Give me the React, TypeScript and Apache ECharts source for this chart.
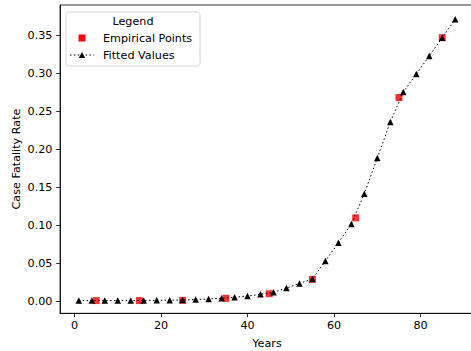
import React, { useEffect, useRef } from "react";
import * as echarts from "echarts";

const empiricalYears = [5, 15, 25, 35, 45, 55, 65, 75, 85];
const empiricalRates = [0.0015, 0.0015, 0.0018, 0.0045, 0.0105, 0.0294, 0.11, 0.268, 0.3465];

const fittedYears = [1, 4, 7, 10, 13, 16, 19, 22, 25, 28, 31, 34, 37, 40, 43, 46, 49, 52, 55, 58, 61, 64, 67, 70, 73, 76, 79, 82, 85, 88];
const fittedRates = [
  0.0015, 0.0015, 0.0015, 0.0015, 0.0016, 0.0017, 0.0018, 0.002, 0.0022, 0.0028,
  0.0035, 0.0045, 0.0058, 0.0075, 0.0097, 0.0123, 0.0179, 0.024, 0.0299, 0.0534,
  0.0774, 0.102, 0.1418, 0.1886, 0.2358, 0.2752, 0.2988, 0.3224, 0.3465, 0.3706,
];

const xTicks = [0, 20, 40, 60, 80];
const yTicks = [0, 0.05, 0.1, 0.15, 0.2, 0.25, 0.3, 0.35];

const FONT = "DejaVu Sans";
const FS = 11.2;

export default function App() {
  const ref = useRef<HTMLDivElement>(null);
  useEffect(() => {
    if (!ref.current) return;
    const chart = echarts.init(ref.current, null, { renderer: "svg" });
    chart.setOption({
      animation: false,
      textStyle: { fontFamily: FONT },
      grid: {
        left: 60,
        top: 5,
        right: -3,
        bottom: 37.7,
        outerBoundsMode: "none",
        containLabel: false,
        show: true,
        borderColor: "#000",
        borderWidth: 0.8,
        backgroundColor: "transparent",
      },
      xAxis: {
        type: "value",
        min: -3.35,
        max: 92.35,
        name: "Years",
        nameLocation: "middle",
        nameGap: 24.5,
        nameTextStyle: { fontFamily: FONT, fontSize: FS, color: "#000" },
        axisLine: { show: true, onZero: false, lineStyle: { color: "#000", width: 0.8 } },
        axisTick: { show: true, customValues: xTicks, length: 3.9, lineStyle: { color: "#000", width: 0.8 } },
        axisLabel: { customValues: xTicks, margin: 6.5, fontFamily: FONT, fontSize: FS, color: "#000" },
        splitLine: { show: false },
      },
      yAxis: {
        type: "value",
        min: -0.0152,
        max: 0.3894,
        axisLine: { show: true, onZero: false, lineStyle: { color: "#000", width: 0.8 } },
        axisTick: { show: true, customValues: yTicks, length: 3.9, lineStyle: { color: "#000", width: 0.8 } },
        axisLabel: {
          customValues: yTicks,
          margin: 7.5,
          fontFamily: FONT,
          fontSize: FS,
          color: "#000",
          formatter: (v: number) => v.toFixed(2),
        },
        splitLine: { show: false },
      },
      series: [
        {
          name: "Empirical Points",
          type: "scatter",
          symbol: "rect",
          symbolSize: 7,
          itemStyle: { color: "#ff0000" },
          data: empiricalYears.map((x, i) => [x, empiricalRates[i]]),
          z: 2,
        },
        {
          name: "Fitted Values",
          type: "line",
          symbol: "triangle",
          symbolSize: 6.5,
          showSymbol: true,
          itemStyle: { color: "#000" },
          lineStyle: { color: "#000", width: 1, type: [1.5, 2.4] },
          data: fittedYears.map((x, i) => [x, fittedRates[i]]),
          z: 3,
        },
      ],
      graphic: [
        {
          type: "text",
          x: 16,
          y: 159,
          rotation: Math.PI / 2,
          style: { text: "Case Fatality Rate", fontFamily: FONT, fontSize: FS, fill: "#000", align: "center", verticalAlign: "middle" },
          z: 11,
        },
        {
          type: "rect",
          shape: { x: 66, y: 12, width: 134, height: 54, r: 2.5 },
          style: { fill: "rgba(255,255,255,0.8)", stroke: "#cccccc", lineWidth: 0.8 },
          z: 10,
        },
        {
          type: "text",
          x: 133,
          y: 21,
          style: { text: "Legend", fontFamily: FONT, fontSize: FS, fill: "#000", align: "center", verticalAlign: "middle" },
          z: 11,
        },
        {
          type: "rect",
          shape: { x: 78.5, y: 34.5, width: 7, height: 7 },
          style: { fill: "#ff0000" },
          z: 11,
        },
        {
          type: "text",
          x: 103,
          y: 38,
          style: { text: "Empirical Points", fontFamily: FONT, fontSize: FS, fill: "#000", align: "left", verticalAlign: "middle" },
          z: 11,
        },
        {
          type: "line",
          shape: { x1: 70, y1: 55, x2: 94, y2: 55 },
          style: { stroke: "#000", lineWidth: 1, lineDash: [1.5, 2.4] },
          z: 11,
        },
        {
          type: "polygon",
          shape: { points: [[82, 52], [78.8, 58], [85.2, 58]] },
          style: { fill: "#000" },
          z: 11,
        },
        {
          type: "text",
          x: 103,
          y: 55,
          style: { text: "Fitted Values", fontFamily: FONT, fontSize: FS, fill: "#000", align: "left", verticalAlign: "middle" },
          z: 11,
        },
      ],
    });
    return () => chart.dispose();
  }, []);
  return <div ref={ref} style={{ width: 471, height: 351, position: "absolute", left: 0, top: 0 }} />;
}
